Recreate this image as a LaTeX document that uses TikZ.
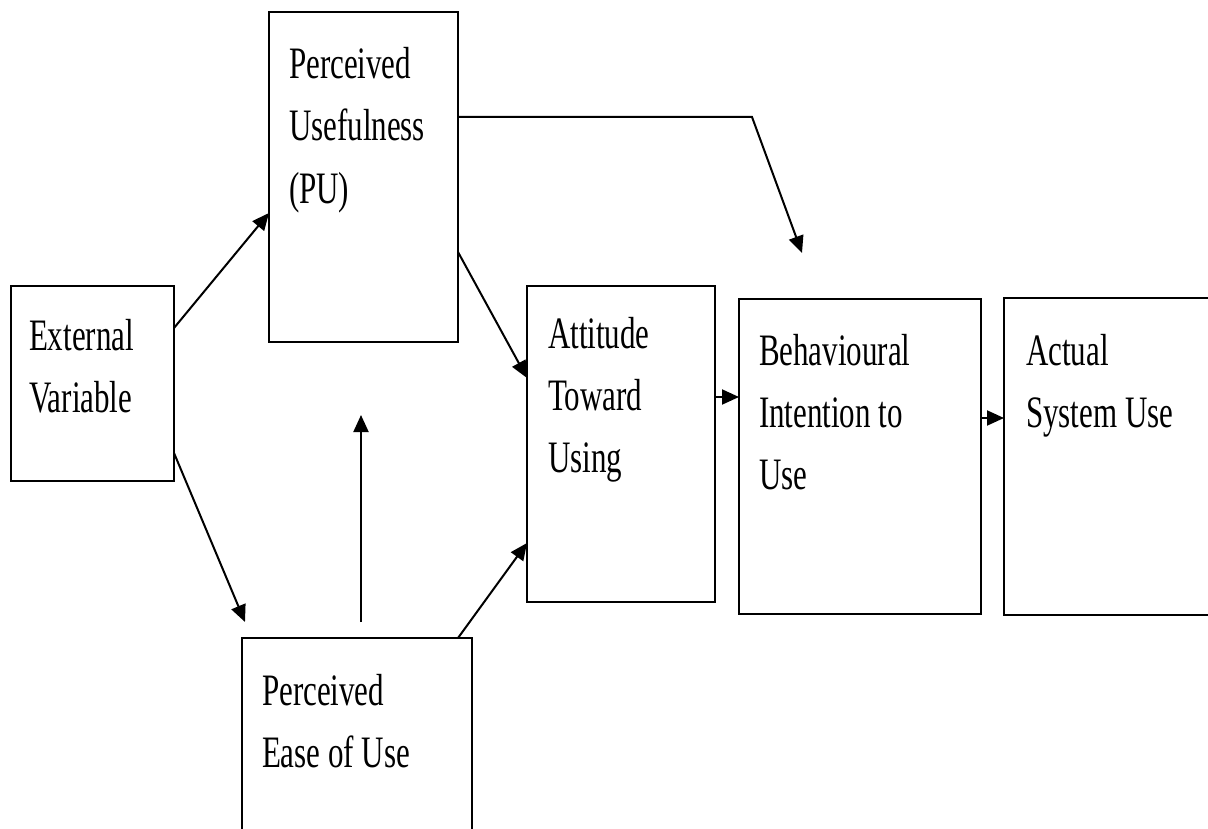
\documentclass[tikz,border=0pt]{standalone}
\usepackage{fontspec}
\setmainfont{Liberation Serif}
\usetikzlibrary{arrows.meta}
\newcommand{\boxtext}[1]{\scalebox{1}[1.45]{\renewcommand{\arraystretch}{1}\begin{tabular}[t]{@{}l@{}}#1\end{tabular}}}
\begin{document}
\begin{tikzpicture}[x=1pt,y=-1pt,
  box/.style={draw=black,line width=2pt,fill=none,inner sep=0pt,outer sep=0pt,anchor=north west},
  lbl/.style={anchor=base west,inner sep=0pt,outer sep=0pt,font=\fontsize{31}{42.76}\selectfont},
  arr/.style={draw=black,line width=2pt,-{Triangle[length=17pt,width=15pt]}},
  plain/.style={draw=black,line width=2pt}]
\useasboundingbox (0,0) rectangle (1208,829);
\clip (0,0) rectangle (1208,829);
\fill[white] (0,0) rectangle (1208,829);
% boxes
\node[box,minimum width=163pt,minimum height=195pt] (ext) at (11,286) {};
\node[box,minimum width=189pt,minimum height=330pt] (pu) at (269,12) {};
\node[box,minimum width=230pt,minimum height=215pt] (peou) at (242,638) {};
\node[box,minimum width=188pt,minimum height=316pt] (att) at (527,286) {};
\node[box,minimum width=242pt,minimum height=315pt] (bi) at (739,299) {};
\node[box,minimum width=215pt,minimum height=317pt] (asu) at (1004,298) {};
% labels
\node[lbl] (extT) at (29,350) {\boxtext{External\\Variable}};
\node[lbl] (puT) at (289,79) {\boxtext{Perceived\\Usefulness\\(PU)}};
\node[lbl] (peouT) at (262,705) {\boxtext{Perceived\\Ease of Use}};
\node[lbl] (attT) at (548,348) {\boxtext{Attitude\\Toward\\Using}};
\node[lbl] (biT) at (759,365) {\boxtext{Behavioural\\Intention to\\Use}};
\node[lbl] (asuT) at (1026,365) {\boxtext{Actual\\System Use}};
% free ends
\coordinate (peouTip) at (245,622);
\coordinate (upStart) at (361,622);
\coordinate (upTip) at (361,415);
\coordinate (fbBend) at (752,117);
\coordinate (fbTip) at (802,253);
% connectors
\draw[arr] ([yshift=-42pt]ext.north east) -- ([yshift=-201pt]pu.north west);
\draw[arr] ([yshift=-167pt]ext.north east) -- (peouTip);
\draw[arr] (upStart) -- (upTip);
\draw[arr] ([yshift=-240pt]pu.north east) -- ([yshift=-92pt]att.north west);
\draw[arr] ([xshift=-14pt]peou.north east) -- ([yshift=-257pt]att.north west);
\draw[arr] ([yshift=-105pt]pu.north east) -- (fbBend) -- (fbTip);
\draw[arr] ([yshift=-111pt]att.north east) -- ([yshift=-98pt]bi.north west);
\draw[arr] ([yshift=-119pt]bi.north east) -- ([yshift=-120pt]asu.north west);
\end{tikzpicture}
\end{document}
